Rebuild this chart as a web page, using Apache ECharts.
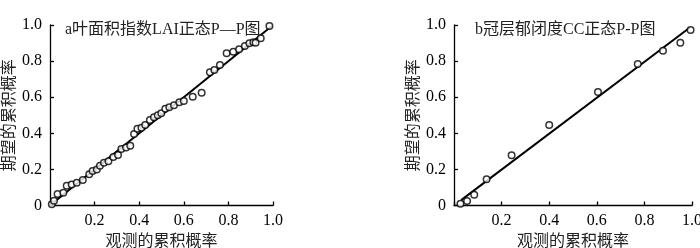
<!DOCTYPE html>
<html><head><meta charset="utf-8">
<script src="https://cdn.jsdelivr.net/npm/echarts@6/dist/echarts.min.js"></script>
<style>html,body{margin:0;padding:0;background:#fff}#c{width:700px;height:248px}</style>
</head><body><div id="c"></div>
<script>
// Panel a: 叶面积指数LAI 正态P-P图 (observed vs expected cumulative probability)
const aObserved = [0.008,0.018,0.034,0.06,0.075,0.097,0.12,0.147,0.176,0.191,0.21,0.224,0.242,0.262,0.284,0.305,0.32,0.341,0.36,0.377,0.392,0.41,0.427,0.448,0.466,0.483,0.499,0.517,0.535,0.556,0.58,0.6,0.64,0.68,0.717,0.737,0.762,0.792,0.822,0.848,0.874,0.894,0.912,0.922,0.945,0.984];
const aExpected = [0.007,0.027,0.064,0.071,0.11,0.117,0.126,0.141,0.173,0.191,0.2,0.22,0.237,0.245,0.269,0.28,0.313,0.322,0.331,0.396,0.425,0.431,0.446,0.474,0.489,0.5,0.511,0.536,0.544,0.555,0.572,0.579,0.603,0.625,0.738,0.751,0.778,0.843,0.852,0.865,0.884,0.899,0.904,0.902,0.926,0.994];
const aLineX = [0.005,0.995];
const aLineY = [0.005,0.995];
// Panel b: 冠层郁闭度CC 正态P-P图
const bObserved = [0.027,0.055,0.085,0.137,0.242,0.4,0.605,0.772,0.878,0.951,0.994];
const bExpected = [0.01,0.025,0.06,0.145,0.278,0.446,0.629,0.784,0.858,0.902,0.972];
const bLineX = [0.03,0.99];
const bLineY = [0.03,0.985];
const tickValues = [0,0.2,0.4,0.6,0.8,1.0];
const yTickLabels = ['0','0.2','0.4','0.6','0.8','1.0'];
const xTickLabels = ['','0.2','0.4','0.6','0.8','1.0'];
const titles = ['a叶面积指数LAI正态P—P图','b冠层郁闭度CC正态P-P图'];
const xName = '观测的累积概率';
const yName = '期望的累积概率';

const FONT = '"Liberation Serif","Noto Sans CJK SC",serif';
const chart = echarts.init(document.getElementById('c'), null, {renderer:'canvas'});
function pairs(xs, ys){ return xs.map((x,i)=>[x, ys[i]]); }
function xAxis(gi){
  return {gridIndex:gi,type:'value',min:0,max:1,interval:0.2,
    name:xName,nameLocation:'middle',nameGap:27,
    nameTextStyle:{fontFamily:FONT,fontSize:16,color:'#222'},
    axisLine:{lineStyle:{color:'#000',width:1.3}},
    axisTick:{inside:true,length:4,lineStyle:{color:'#000',width:1.3}},
    axisLabel:{fontFamily:FONT,fontSize:16,color:'#000',margin:7,
      formatter:v=>xTickLabels[tickValues.findIndex(t=>Math.abs(t-v)<1e-6)] ?? ''},
    splitLine:{show:false}};
}
function yAxis(gi){
  return {gridIndex:gi,type:'value',min:0,max:1,interval:0.2,
    name:yName,nameLocation:'middle',nameGap:31,nameRotate:90,
    nameTextStyle:{fontFamily:FONT,fontSize:16,color:'#222'},
    axisLine:{show:true,lineStyle:{color:'#000',width:1.3}},
    axisTick:{show:true,inside:true,length:4,lineStyle:{color:'#000',width:1.3}},
    axisLabel:{fontFamily:FONT,fontSize:16,color:'#000',margin:8,
      formatter:v=>yTickLabels[tickValues.findIndex(t=>Math.abs(t-v)<1e-6)] ?? ''},
    splitLine:{show:false}};
}
const scatterStyle = {color:'#fff',borderColor:'#000',borderWidth:1.5};
chart.setOption({
  animation:false,
  backgroundColor:'#fff',
  title:[
    {text:titles[0],left:60,top:17,textStyle:{fontFamily:FONT,fontSize:16,fontWeight:'normal',color:'#222'}},
    {text:titles[1],left:470,top:17,textStyle:{fontFamily:FONT,fontSize:16,fontWeight:'normal',color:'#222'}}
  ],
  grid:[
    {left:50,top:25,width:223,height:180.5,containLabel:false,outerBoundsMode:'none'},
    {left:454,top:25,width:238,height:180.5,containLabel:false,outerBoundsMode:'none'}
  ],
  xAxis:[xAxis(0),xAxis(1)],
  yAxis:[yAxis(0),yAxis(1)],
  series:[
    {type:'line',xAxisIndex:0,yAxisIndex:0,data:pairs(aLineX,aLineY),symbol:'none',lineStyle:{color:'#000',width:2},z:2},
    {type:'scatter',xAxisIndex:0,yAxisIndex:0,data:pairs(aObserved,aExpected),symbol:'circle',symbolSize:6.5,itemStyle:scatterStyle,z:3},
    {type:'line',xAxisIndex:1,yAxisIndex:1,data:pairs(bLineX,bLineY),symbol:'none',lineStyle:{color:'#000',width:2},z:2},
    {type:'scatter',xAxisIndex:1,yAxisIndex:1,data:pairs(bObserved,bExpected),symbol:'circle',symbolSize:6.5,itemStyle:scatterStyle,z:3}
  ]
});
</script></body></html>
